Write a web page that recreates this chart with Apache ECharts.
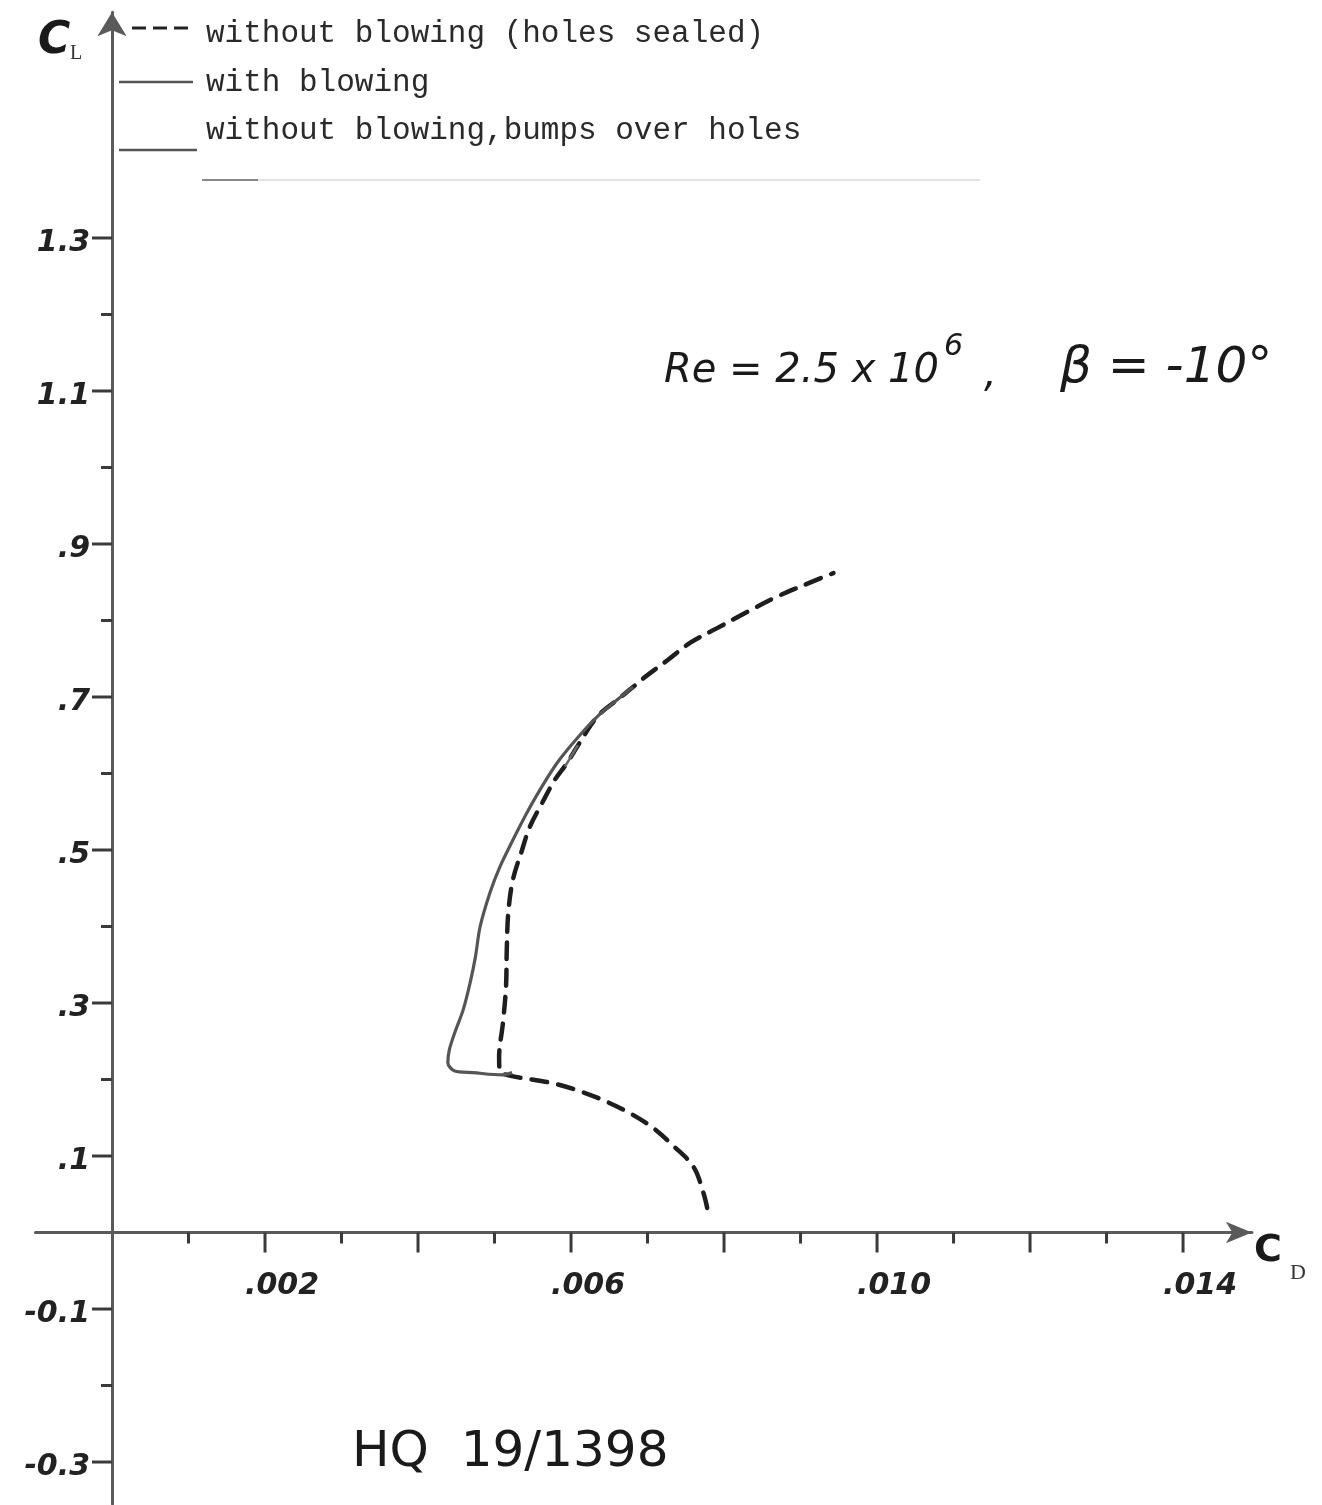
<!DOCTYPE html>
<html>
<head>
<meta charset="utf-8">
<script src="https://cdn.jsdelivr.net/npm/echarts@6/dist/echarts.min.js"></script>
<style>
html,body{margin:0;padding:0;background:#fff;}
#chart{width:1322px;height:1505px;}
</style>
</head>
<body>
<div id="chart"></div>
<script>
// ---- Data (CD, CL) ----
const sealedCD = [0.00778,0.00773,0.00760,0.00733,0.00707,0.00677,0.00642,0.00608,0.00577,0.00543,0.00520,0.00507,0.00506,0.00511,0.00515,0.00516,0.00518,0.00524,0.00536,0.00546,0.00562,0.00579,0.00595,0.00608,0.00634,0.00660,0.00681,0.00694,0.00726,0.00756,0.00791,0.00830,0.00869,0.00899,0.00943];
const sealedCL = [0.032,0.052,0.086,0.114,0.137,0.156,0.173,0.186,0.195,0.201,0.205,0.211,0.229,0.274,0.321,0.369,0.418,0.461,0.500,0.530,0.561,0.592,0.614,0.635,0.674,0.696,0.713,0.724,0.748,0.771,0.790,0.811,0.831,0.844,0.862];

const blowingCD = [0.00681,0.00660,0.00634,0.00608,0.00582,0.00559,0.00542,0.00524,0.00507,0.00494,0.00481,0.00475,0.00468,0.00459,0.00448,0.00441,0.00439,0.00448,0.00472,0.00510,0.00523];
const blowingCL = [0.713,0.696,0.674,0.646,0.614,0.578,0.548,0.513,0.478,0.444,0.399,0.360,0.326,0.291,0.261,0.239,0.222,0.211,0.209,0.206,0.209];

const bumpsCD = [0.00592,0.00600,0.00609];
const bumpsCL = [0.609,0.622,0.637];

// ---- Axis ticks / labels ----
const cdMajorTicks = [0.002,0.004,0.006,0.008,0.010,0.012,0.014];
const cdMinorTicks = [0.001,0.003,0.005,0.007,0.009,0.011,0.013];
const cdLabelValues = [0.002,0.006,0.010,0.014];
const clMajorTicks = [1.3,1.1,0.9,0.7,0.5,0.3,0.1,-0.1,-0.3];
const clMinorTicks = [1.2,1.0,0.8,0.6,0.4,0.2,-0.2];

const legendNames = ['without blowing (holes sealed)','with blowing','without blowing,bumps over holes'];

function pairs(xs, ys){ return xs.map((x,i)=>[x, ys[i]]); }
function fmtCD(v){ return v.toFixed(3).slice(1); }
function fmtCL(v){ const s=v.toFixed(1); return (v>0 && v<1) ? s.slice(1) : s; }

const chart = echarts.init(document.getElementById('chart'), null, {renderer:'canvas'});
const labelFont = 'italic bold 30px "DejaVu Sans"';
const axisColor = '#5a5a5a';
const tickColor = '#3a3a3a';

function tickSeries(values, isX, len){
  return {
    type:'custom', silent:true, clip:false, z:3,
    data: values.map(v=> isX ? [v,0] : [0,v]),
    renderItem:(params, api)=>{
      const p = isX ? api.coord([api.value(0), 0]) : api.coord([0, api.value(1)]);
      const shape = isX ? {x1:p[0], y1:p[1], x2:p[0], y2:p[1]+len}
                        : {x1:p[0]-len, y1:p[1], x2:p[0], y2:p[1]};
      return {type:'line', shape:shape, style:{stroke:tickColor, lineWidth:3}};
    }
  };
}
function labelSeries(values, isX){
  return {
    type:'custom', silent:true, clip:false, z:3,
    data: values.map(v=> isX ? [v,0] : [0,v]),
    renderItem:(params, api)=>{
      if(isX){
        const v = api.value(0);
        const p = api.coord([v, 0]);
        return {type:'text', x:p[0]+17, y:p[1]+54,
          style:{text:fmtCD(v), font:labelFont, fill:'#222', align:'center', verticalAlign:'middle'}};
      } else {
        const v = api.value(1);
        const p = api.coord([0, v]);
        return {type:'text', x:p[0]-22, y:p[1]+5,
          style:{text:fmtCL(v), font:labelFont, fill:'#222', align:'right', verticalAlign:'middle'}};
      }
    }
  };
}

const option = {
  backgroundColor:'#ffffff',
  animation:false,
  grid:{left:35.5, top:12.3, width:1216.4, height:1491.8, containLabel:false, outerBoundsMode:'none'},
  xAxis:{
    type:'value', min:-0.001, max:0.0149,
    splitLine:{show:false},
    axisLine:{show:true, onZero:true, symbol:['none','arrow'], symbolSize:[16,26], lineStyle:{color:axisColor, width:3}},
    axisTick:{show:false},
    axisLabel:{show:false}
  },
  yAxis:{
    type:'value', min:-0.355, max:1.595,
    splitLine:{show:false},
    axisLine:{show:true, onZero:true, symbol:['none','arrow'], symbolSize:[22,24], lineStyle:{color:axisColor, width:3}},
    axisTick:{show:false},
    axisLabel:{show:false}
  },
  series:[
    tickSeries(cdMajorTicks, true, 20),
    tickSeries(cdMinorTicks, true, 11),
    tickSeries(clMajorTicks, false, 20),
    tickSeries(clMinorTicks, false, 11),
    labelSeries(cdLabelValues, true),
    labelSeries(clMajorTicks, false),
    {
      name:legendNames[0], type:'line', data:pairs(sealedCD, sealedCL), symbol:'none', smooth:0.35, z:4,
      lineStyle:{color:'#1e1e1e', width:4.5, type:[16,11], cap:'round'}
    },
    {
      name:legendNames[1], type:'line', data:pairs(blowingCD, blowingCL), symbol:'none', smooth:0.3, z:5,
      lineStyle:{color:'#555555', width:3.2}
    },
    {
      name:legendNames[2], type:'line', data:pairs(bumpsCD, bumpsCL), symbol:'none', smooth:0.2, z:5,
      lineStyle:{color:'#6a6a6a', width:2.6}
    }
  ],
  graphic:[
    // axis titles
    {type:'text', left:38, top:20, style:{text:'C', font:'italic bold 44px "DejaVu Sans"', fill:'#1a1a1a'}},
    {type:'text', left:70, top:44, style:{text:'L', font:'20px "Liberation Serif"', fill:'#333'}},
    {type:'text', left:1254, top:1232, style:{text:'C', font:'bold 38px "DejaVu Sans"', fill:'#1a1a1a'}},
    {type:'text', left:1290, top:1262, style:{text:'D', font:'22px "Liberation Serif"', fill:'#333'}},
    // legend samples
    {type:'line', shape:{x1:132, y1:28, x2:192, y2:28}, style:{stroke:'#222', lineWidth:3, lineDash:[14,7]}},
    {type:'line', shape:{x1:119, y1:82, x2:193, y2:82}, style:{stroke:'#555', lineWidth:2.5}},
    {type:'line', shape:{x1:119, y1:150, x2:197, y2:150}, style:{stroke:'#555', lineWidth:2.5}},
    {type:'line', shape:{x1:202, y1:180, x2:980, y2:180}, style:{stroke:'#e2e2e2', lineWidth:2}},
    {type:'line', shape:{x1:202, y1:180, x2:258, y2:180}, style:{stroke:'#888', lineWidth:2}},
    // legend texts
    {type:'text', left:206, top:18, style:{text:legendNames[0], font:'31px "Liberation Mono"', fill:'#2a2a2a'}},
    {type:'text', left:206, top:67, style:{text:legendNames[1], font:'31px "Liberation Mono"', fill:'#2a2a2a'}},
    {type:'text', left:206, top:115, style:{text:legendNames[2], font:'31px "Liberation Mono"', fill:'#2a2a2a'}},
    // handwritten annotation
    {type:'text', left:664, top:352, style:{text:'Re = 2.5 x 10', font:'italic 40px "DejaVu Sans"', fill:'#1a1a1a'}},
    {type:'text', left:944, top:332, style:{text:'6', font:'italic 30px "DejaVu Sans"', fill:'#1a1a1a'}},
    {type:'text', left:984, top:356, style:{text:',', font:'italic 40px "DejaVu Sans"', fill:'#1a1a1a'}},
    {type:'text', left:1060, top:344, style:{text:'β = -10°', font:'italic 50px "DejaVu Sans"', fill:'#1a1a1a'}},
    {type:'text', left:352, top:1428, style:{text:'HQ  19/1398', font:'50px "DejaVu Sans"', fill:'#1a1a1a'}}
  ]
};
chart.setOption(option);
</script>
</body>
</html>
